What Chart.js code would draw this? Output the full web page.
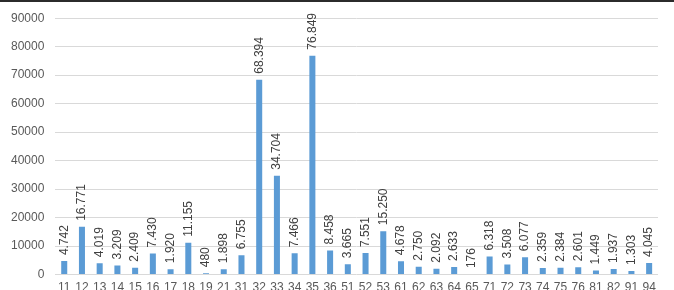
<!DOCTYPE html>
<html>
<head>
<meta charset="utf-8">
<script src="https://cdn.jsdelivr.net/npm/chart.js@4"></script>
<style>
  html, body { margin: 0; padding: 0; background: #fff; }
  #wrap { position: relative; width: 674px; height: 290px; overflow: hidden; }
  #topline { position: absolute; left: 0; top: 0; width: 674px; height: 2px; background: #2b2b2b; z-index: 2; }
  #box { position: absolute; left: 0; top: 0; width: 674px; height: 308px; }
</style>
</head>
<body>
<div id="wrap">
  <div id="topline"></div>
  <div id="box"><canvas id="chart"></canvas></div>
</div>
<script>
const categories = ["11", "12", "13", "14", "15", "16", "17", "18", "19", "21", "31", "32", "33", "34", "35", "36", "51",
    "52", "53", "61", "62", "63", "64", "65", "71", "72", "73", "74", "75", "76", "81", "82", "91", "94"];
const values = [4742, 16771, 4019, 3209, 2409, 7430, 1920, 11155, 480, 1898, 6755, 68394, 34704, 7466, 76849, 8458, 3665,
    7551, 15250, 4678, 2750, 2092, 2633, 176, 6318, 3508, 6077, 2359, 2384, 2601, 1449, 1937, 1303, 4045];
const yMax = 90000;
const yStep = 10000;

// 千位用点号分隔
function fmt(v) {
    return String(v).replace(/\B(?=(\d{3})+(?!\d))/g, ".");
}

// 竖排的数据标签
const barLabels = {
    id: "barLabels",
    afterDatasetsDraw(chart) {
        const ctx = chart.ctx;
        const meta = chart.getDatasetMeta(0);
        ctx.save();
        ctx.font = "12px 'Liberation Sans', Arial, sans-serif";
        ctx.fillStyle = "#404040";
        ctx.textAlign = "left";
        ctx.textBaseline = "middle";
        meta.data.forEach((bar, i) => {
            ctx.save();
            ctx.translate(bar.x, bar.y - 6);
            ctx.rotate(-Math.PI / 2);
            ctx.fillText(fmt(values[i]), 0, 0);
            ctx.restore();
        });
        ctx.restore();
    }
};

new Chart(document.getElementById("chart"), {
    type: "bar",
    data: {
        labels: categories,
        datasets: [{
            data: values,
            backgroundColor: "#5B9BD5",
            categoryPercentage: 1,
            barPercentage: 0.34
        }]
    },
    options: {
        responsive: true,
        maintainAspectRatio: false,
        animation: false,
        layout: { padding: { left: 0, right: 16, top: 17, bottom: 7 } },
        plugins: { legend: { display: false }, tooltip: { enabled: false } },
        scales: {
            x: {
                grid: { display: false, drawTicks: false },
                border: { display: false },
                ticks: {
                    color: "#595959",
                    font: { family: "'Liberation Sans', Arial, sans-serif", size: 12 },
                    maxRotation: 0,
                    autoSkip: false,
                    padding: 6
                }
            },
            y: {
                min: 0,
                max: yMax,
                grid: { color: "#D9D9D9", lineWidth: 1, drawTicks: false },
                border: { display: false },
                ticks: {
                    stepSize: yStep,
                    color: "#595959",
                    font: { family: "'Liberation Sans', Arial, sans-serif", size: 12 },
                    padding: 11,
                    callback: v => String(v)
                }
            }
        }
    },
    plugins: [barLabels]
});
</script>
</body>
</html>
